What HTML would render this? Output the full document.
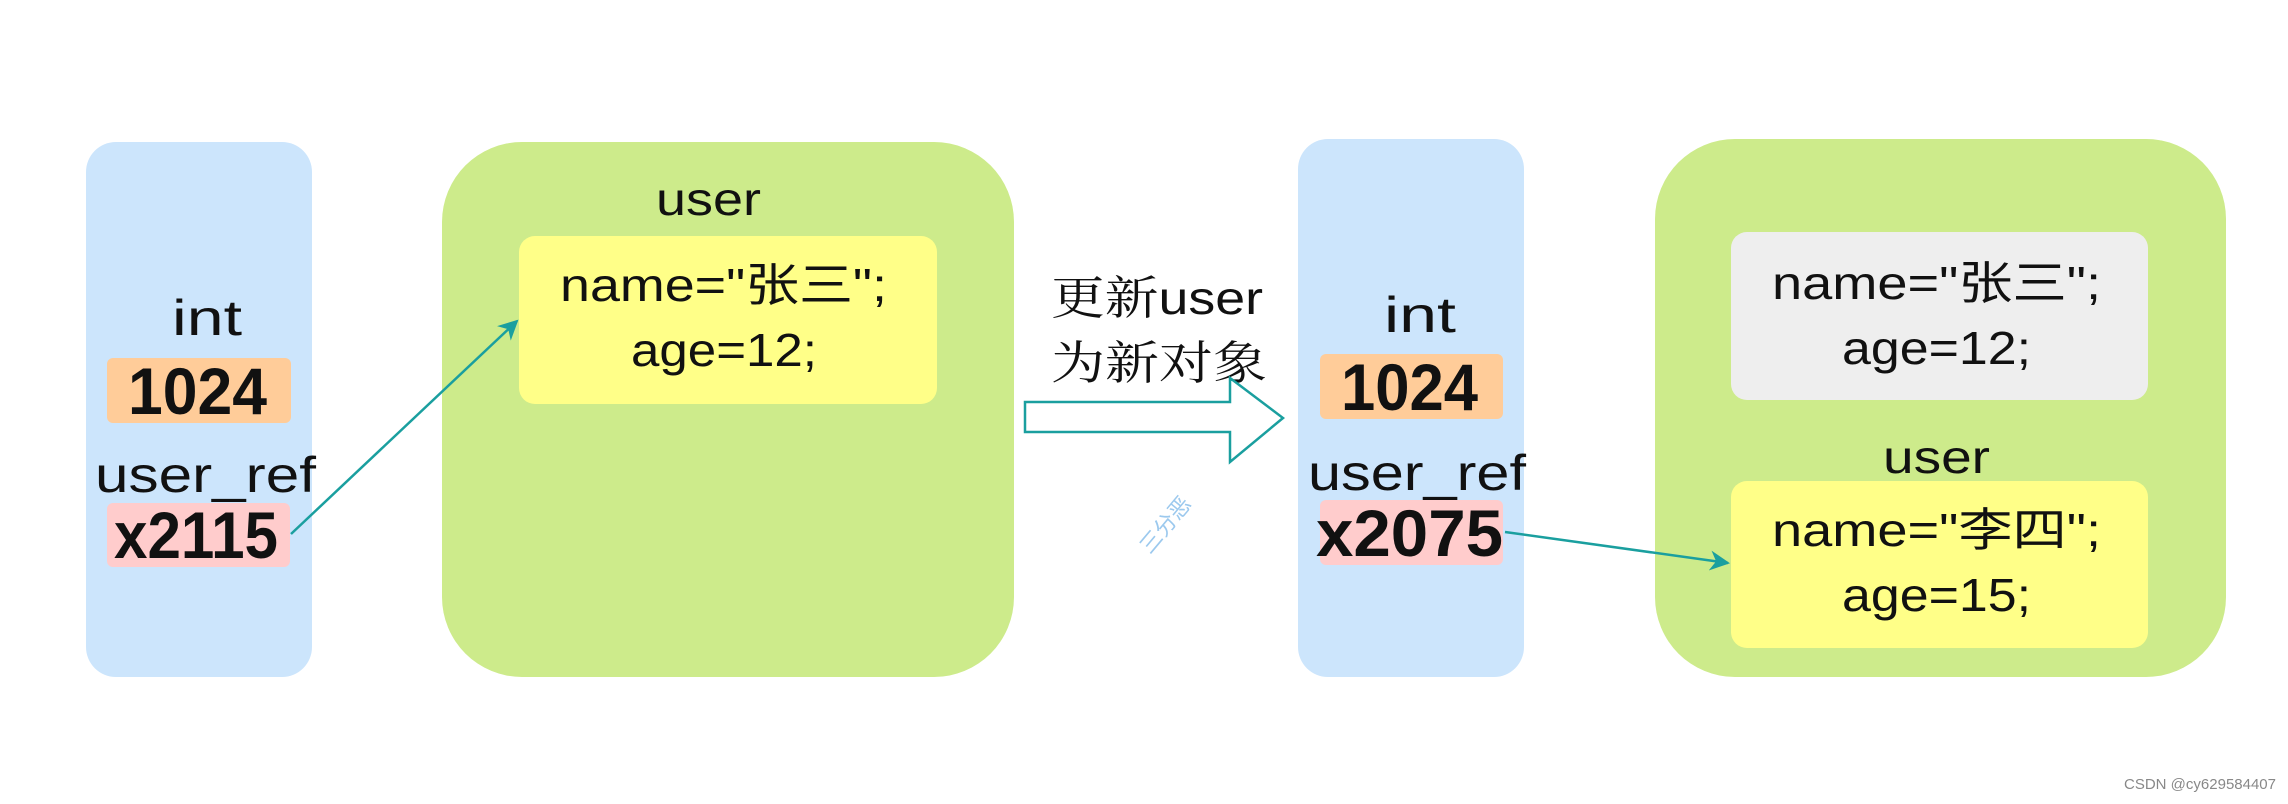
<!DOCTYPE html>
<html><head><meta charset="utf-8"><style>
html,body{margin:0;padding:0;background:#fff;}
svg{display:block;}
text{font-family:"Liberation Sans","Noto Sans CJK SC",sans-serif;fill:#111;}
.cn{font-family:"Liberation Sans","Noto Serif CJK SC",serif;}
</style></head><body>
<svg width="2288" height="804" viewBox="0 0 2288 804" xmlns="http://www.w3.org/2000/svg">
<defs>
<marker id="ah" markerWidth="22" markerHeight="20" refX="18" refY="10" orient="auto" markerUnits="userSpaceOnUse">
<path d="M0,0 L20,10 L0,20 L6,10 Z" fill="#1a9f9f"/>
</marker>
</defs>
<!-- left -->
<rect x="86" y="142" width="226" height="535" rx="30" fill="#cce5fc"/>
<rect x="442" y="142" width="572" height="535" rx="80" fill="#cdeb8b"/>
<rect x="519" y="236" width="418" height="168" rx="16" fill="#ffff88"/>
<text x="656" y="215" font-size="46" textLength="105" lengthAdjust="spacingAndGlyphs">user</text>
<text x="560" y="301" font-size="46" textLength="327" lengthAdjust="spacingAndGlyphs">name="张三";</text>
<text x="631" y="366" font-size="46" textLength="186" lengthAdjust="spacingAndGlyphs">age=12;</text>
<text x="172" y="335" font-size="50" textLength="70" lengthAdjust="spacingAndGlyphs">int</text>
<rect x="107" y="358" width="184" height="65" rx="6" fill="#ffcc99"/>
<text x="128" y="414" font-size="66" font-weight="bold" textLength="139" lengthAdjust="spacingAndGlyphs">1024</text>
<text x="95" y="492" font-size="50" textLength="221" lengthAdjust="spacingAndGlyphs">user_ref</text>
<rect x="107" y="503" width="183" height="64" rx="6" fill="#ffcccc"/>
<text x="114" y="558" font-size="66" font-weight="bold" textLength="164" lengthAdjust="spacingAndGlyphs">x2115</text>
<line x1="291" y1="534" x2="517" y2="321" stroke="#1a9f9f" stroke-width="2.5" marker-end="url(#ah)"/>
<!-- middle -->
<text class="cn" x="1051" y="314" font-size="46" textLength="212" lengthAdjust="spacingAndGlyphs">更新user</text>
<text class="cn" x="1051" y="379" font-size="46" textLength="216" lengthAdjust="spacingAndGlyphs">为新对象</text>
<path d="M1025,402 L1230,402 L1230,378 L1283,418 L1230,462 L1230,432 L1025,432 Z" fill="#fff" stroke="#1a9f9f" stroke-width="2.5"/>
<text x="1150" y="555" font-size="22" style="fill:#9cc9ee" transform="rotate(-50 1150 555)">三分恶</text>
<!-- right -->
<rect x="1298" y="139" width="226" height="538" rx="30" fill="#cce5fc"/>
<rect x="1655" y="139" width="571" height="538" rx="80" fill="#cdeb8b"/>
<rect x="1731" y="232" width="417" height="168" rx="16" fill="#eeeeee"/>
<rect x="1731" y="481" width="417" height="167" rx="16" fill="#ffff88"/>
<text x="1772" y="299" font-size="46" textLength="329" lengthAdjust="spacingAndGlyphs">name="张三";</text>
<text x="1842" y="364" font-size="46" textLength="189" lengthAdjust="spacingAndGlyphs">age=12;</text>
<text x="1883" y="473" font-size="46" textLength="107" lengthAdjust="spacingAndGlyphs">user</text>
<text x="1772" y="546" font-size="46" textLength="329" lengthAdjust="spacingAndGlyphs">name="李四";</text>
<text x="1842" y="611" font-size="46" textLength="189" lengthAdjust="spacingAndGlyphs">age=15;</text>
<text x="1384" y="332" font-size="50" textLength="72" lengthAdjust="spacingAndGlyphs">int</text>
<rect x="1320" y="354" width="183" height="65" rx="6" fill="#ffcc99"/>
<text x="1341" y="410" font-size="66" font-weight="bold" textLength="137" lengthAdjust="spacingAndGlyphs">1024</text>
<text x="1308" y="490" font-size="50" textLength="218" lengthAdjust="spacingAndGlyphs">user_ref</text>
<rect x="1320" y="500" width="183" height="65" rx="6" fill="#ffcccc"/>
<text x="1316" y="556" font-size="66" font-weight="bold" textLength="187" lengthAdjust="spacingAndGlyphs">x2075</text>
<line x1="1505" y1="532" x2="1728" y2="563" stroke="#1a9f9f" stroke-width="2.5" marker-end="url(#ah)"/>
<text x="2276" y="789" font-size="15" text-anchor="end" style="fill:#888">CSDN @cy629584407</text>
</svg>
</body></html>
